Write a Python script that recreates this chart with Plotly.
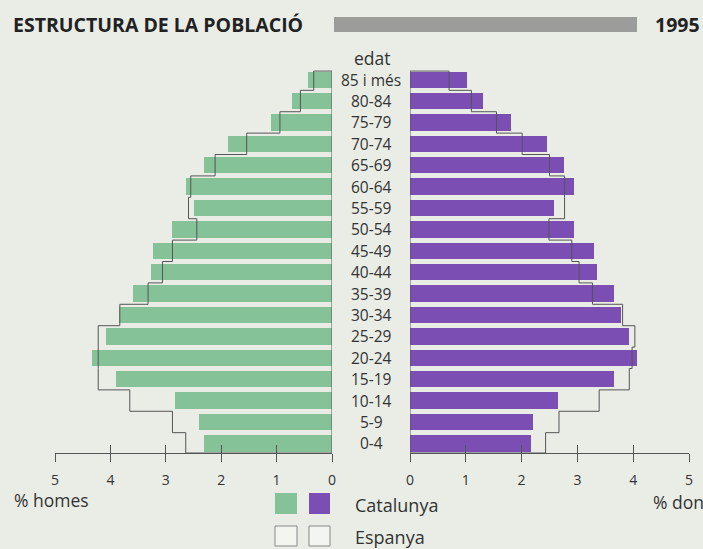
import plotly.graph_objects as go

ages = ["0-4", "5-9", "10-14", "15-19", "20-24", "25-29", "30-34", "35-39", "40-44",
        "45-49", "50-54", "55-59", "60-64", "65-69", "70-74", "75-79", "80-84", "85 i més"]
cat_homes = [2.31, 2.40, 2.83, 3.90, 4.33, 4.08, 3.84, 3.60, 3.27,
             3.23, 2.89, 2.49, 2.64, 2.31, 1.87, 1.11, 0.73, 0.43]
esp_homes = [2.64, 2.88, 3.65, 4.22, 4.22, 4.22, 3.83, 3.32, 3.06,
             2.88, 2.44, 2.59, 2.55, 2.11, 1.54, 0.94, 0.57, 0.33]
cat_dones = [2.17, 2.21, 2.66, 3.66, 4.06, 3.93, 3.79, 3.66, 3.35,
             3.29, 2.94, 2.58, 2.94, 2.76, 2.45, 1.81, 1.31, 1.03]
esp_dones = [2.43, 2.67, 3.39, 3.93, 3.98, 4.03, 3.81, 3.27, 3.03,
             2.90, 2.49, 2.77, 2.77, 2.50, 2.01, 1.55, 1.10, 0.70]
ticks = [0, 1, 2, 3, 4, 5]

GREEN = "#85c297"
PURPLE = "#7b4eb3"
BG = "#e9ede6"
TXT = "#333333"
LINE = "#555555"
FONT = "Open Sans, sans-serif"

W, H = 703, 549
MT, MB = 70, 96

n = len(ages)
idx = list(range(n))
BOT = -0.45
TOP = n - 1 + 0.4


def px(x):
    return x / W


def py(y):
    return (H - MB - y) / (H - MT - MB)


def outline(vals):
    xs, ys = [0], [BOT]
    for i, v in enumerate(vals):
        lo = BOT if i == 0 else i - 0.5
        hi = TOP if i == n - 1 else i + 0.5
        xs += [v, v]
        ys += [lo, hi]
    xs.append(0)
    ys.append(TOP)
    return xs, ys


fig = go.Figure()
fig.add_trace(go.Bar(x=cat_homes, y=idx, orientation="h", marker_color=GREEN,
                     marker_line_width=0, width=0.76, xaxis="x", yaxis="y", showlegend=False))
fig.add_trace(go.Bar(x=cat_dones, y=idx, orientation="h", marker_color=PURPLE,
                     marker_line_width=0, width=0.76, xaxis="x2", yaxis="y", showlegend=False))
ox, oy = outline(esp_homes)
fig.add_trace(go.Scatter(x=ox, y=oy, mode="lines", line=dict(color=LINE, width=1),
                         xaxis="x", yaxis="y", showlegend=False, hoverinfo="skip"))
ox, oy = outline(esp_dones)
fig.add_trace(go.Scatter(x=ox, y=oy, mode="lines", line=dict(color=LINE, width=1),
                         xaxis="x2", yaxis="y", showlegend=False, hoverinfo="skip"))
# center vertical lines at 0
for xr in ["x", "x2"]:
    fig.add_trace(go.Scatter(x=[0, 0], y=[BOT, TOP], mode="lines", line=dict(color=LINE, width=1),
                             xaxis=xr, yaxis="y", showlegend=False, hoverinfo="skip"))
# traces activating overlay axes (for the upward half of the ticks)
fig.add_trace(go.Scatter(x=[0], y=[0], mode="markers", marker=dict(opacity=0), xaxis="x3", yaxis="y",
                         showlegend=False, hoverinfo="skip"))
fig.add_trace(go.Scatter(x=[0], y=[0], mode="markers", marker=dict(opacity=0), xaxis="x4", yaxis="y",
                         showlegend=False, hoverinfo="skip"))

L0, L1 = px(55), px(332)
R0, R1 = px(410), px(689)

axcommon = dict(showgrid=False, zeroline=False, showline=True, linecolor=LINE, linewidth=1,
                ticks="outside", ticklen=8, tickcolor=LINE, tickwidth=1,
                tickvals=ticks, ticktext=[str(t) for t in ticks], ticklabelstandoff=6,
                tickfont=dict(family=FONT, size=14, color=TXT), fixedrange=True)
ovcommon = dict(showgrid=False, zeroline=False, showline=False, ticks="inside", ticklen=8,
                tickcolor=LINE, tickwidth=1, tickvals=ticks, showticklabels=False,
                side="bottom", anchor="y", fixedrange=True)

fig.update_layout(
    width=W, height=H,
    margin=dict(l=0, r=0, t=MT, b=MB, autoexpand=False),
    paper_bgcolor=BG, plot_bgcolor=BG,
    bargap=0,
    xaxis=dict(domain=[L0, L1], range=[5, 0], anchor="y", **axcommon),
    xaxis2=dict(domain=[R0, R1], range=[0, 5], anchor="y", **axcommon),
    xaxis3=dict(domain=[L0, L1], range=[5, 0], overlaying="x", **ovcommon),
    xaxis4=dict(domain=[R0, R1], range=[0, 5], overlaying="x2", **ovcommon),
    yaxis=dict(range=[BOT, n - 1 + 0.45], showgrid=False, zeroline=False, showline=False,
               showticklabels=False, fixedrange=True),
    font=dict(family=FONT, color=TXT),
)

CX = (L1 + R0) / 2
ann = []
for i, a in enumerate(ages):
    ann.append(dict(x=CX, y=i, xref="paper", yref="y", text=a, showarrow=False,
                    font=dict(family=FONT, size=15.5, color=TXT), xanchor="center", yanchor="middle"))


def txt(x, y, s, size, anchor="left", color=TXT):
    ann.append(dict(x=px(x), y=py(y), xref="paper", yref="paper", text=s, showarrow=False,
                    font=dict(family=FONT, size=size, color=color), xanchor=anchor, yanchor="middle"))


txt(372, 58, "edat", 17.5, anchor="center")
txt(11, 25, "<b>ESTRUCTURA DE LA POBLACIÓ</b>", 19.5, color="#222222")
txt(653, 25, "<b>1995</b>", 19.5, color="#222222")
txt(12, 500, "% homes", 17.5)
txt(651, 502, "% dones", 17.5)
txt(353, 505, "Catalunya", 18)
txt(353, 537, "Espanya", 18)


def rect(x0, x1, y0, y1, fill, lw=0, lc="#888888"):
    return dict(type="rect", xref="paper", yref="paper", x0=px(x0), x1=px(x1), y0=py(y1), y1=py(y0),
                fillcolor=fill, line=dict(width=lw, color=lc))


shapes = [
    rect(334, 637, 17, 32, "#9c9c9a"),
    rect(275, 297, 493, 514, GREEN),
    rect(309, 330, 493, 514, PURPLE),
    rect(275, 297, 526, 546, "#f3f5f1", lw=1),
    rect(309, 330, 526, 546, "#f3f5f1", lw=1),
]
fig.update_layout(annotations=ann, shapes=shapes)

fig.write_html("out.html", config={"displayModeBar": False},
               post_script="document.body.style.margin='0px';")
